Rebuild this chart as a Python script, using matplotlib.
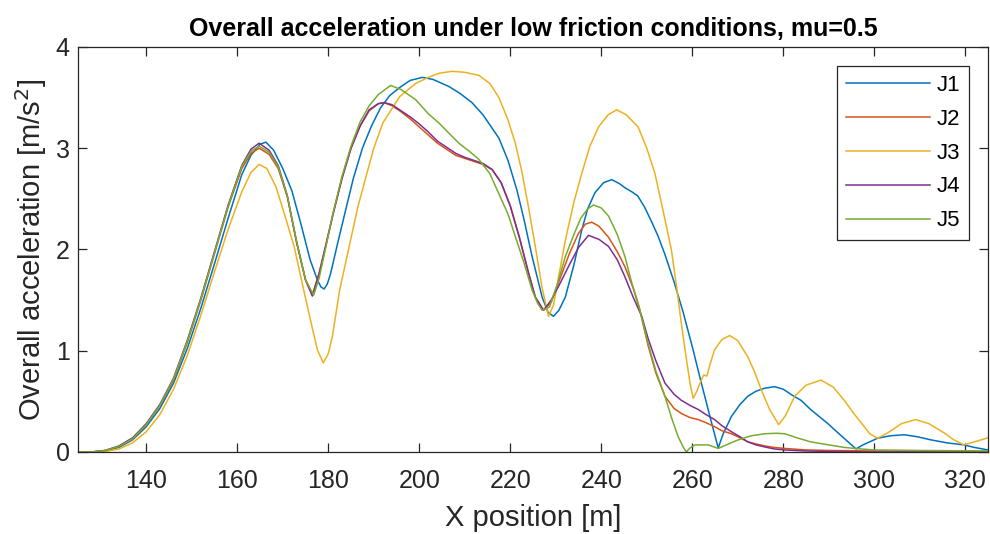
import matplotlib
matplotlib.use("Agg")
import matplotlib.pyplot as plt

plt.rcParams['font.family'] = ['Liberation Sans', 'DejaVu Sans']

# X position [m] and overall acceleration [m/s^2] for each run
x_j1 = [125, 128, 131, 134, 137, 140, 143, 146, 149, 152,
        155, 158, 161, 163, 165, 166.3, 168, 170, 172, 174,
        176, 177.6, 178.4, 179.1, 179.8, 180.5, 182, 183.5, 185.5, 187.5,
        189.5, 191.5, 193.5, 195.7, 198, 200.7, 203, 206.5, 209, 211.6,
        214, 217.5, 219.5, 221.5, 223, 224.8, 227, 228.3, 229.5, 230.7,
        232.1, 234, 235.7, 237, 238.6, 240.5, 242.3, 244, 245.2, 246.7,
        248, 249.5, 251, 252.5, 254, 256, 258, 260, 262, 264,
        265.7, 266.8, 268.6, 270.5, 272.2, 274, 275.9, 278.1, 280, 282,
        283.9, 286, 289.8, 292, 294, 296, 297.5, 300.7, 303.5, 306.6,
        309.5, 312.4, 316, 319.7, 322, 325]
a_j1 = [0, 0, 0.01, 0.045, 0.12, 0.25, 0.43, 0.68, 1.02, 1.42,
        1.86, 2.31, 2.74, 2.93, 3.04, 3.06, 2.98, 2.80, 2.58, 2.25,
        1.90, 1.70, 1.63, 1.61, 1.66, 1.76, 2.05, 2.33, 2.70, 3.00,
        3.22, 3.40, 3.52, 3.60, 3.67, 3.70, 3.68, 3.61, 3.54, 3.45,
        3.33, 3.10, 2.88, 2.58, 2.30, 1.93, 1.53, 1.38, 1.34, 1.40,
        1.53, 1.85, 2.19, 2.40, 2.56, 2.66, 2.69, 2.65, 2.61, 2.57,
        2.53, 2.42, 2.28, 2.13, 1.95, 1.68, 1.38, 1.04, 0.68, 0.33,
        0.04, 0.18, 0.35, 0.47, 0.55, 0.60, 0.63, 0.645, 0.62, 0.56,
        0.51, 0.42, 0.28, 0.19, 0.11, 0.03, 0.07, 0.135, 0.16, 0.17,
        0.15, 0.12, 0.09, 0.07, 0.045, 0.02]

x_j2 = [125, 128, 131, 134, 137, 140, 143, 146, 149, 152,
        155, 158, 161, 163, 164.8, 167, 169, 171, 173, 175,
        176.5, 178, 179.5, 181, 183, 185, 187, 189, 191, 192.3,
        194, 196, 198, 200, 202, 204, 206, 208, 210, 212,
        214, 216, 218, 220, 222, 224, 225.5, 227.3, 229, 231,
        233, 235, 236.5, 237.9, 239.5, 241.6, 243.5, 245.2, 247, 248.5,
        250.3, 252, 254, 256, 257.6, 259.5, 261.3, 263, 264.9, 266.5,
        268.6, 270.5, 272.2, 274, 275.9, 278, 280.3, 285, 290, 300,
        310, 325]
a_j2 = [0, 0, 0.015, 0.055, 0.13, 0.27, 0.46, 0.71, 1.08, 1.50,
        1.96, 2.42, 2.80, 2.95, 3.00, 2.94, 2.80, 2.52, 2.08, 1.70,
        1.55, 1.77, 2.05, 2.34, 2.70, 3.00, 3.22, 3.37, 3.44, 3.45,
        3.42, 3.36, 3.29, 3.21, 3.13, 3.05, 2.99, 2.93, 2.90, 2.87,
        2.84, 2.79, 2.66, 2.43, 2.12, 1.77, 1.53, 1.40, 1.48, 1.72,
        1.96, 2.16, 2.25, 2.27, 2.23, 2.12, 1.98, 1.83, 1.62, 1.40,
        1.05, 0.78, 0.55, 0.43, 0.38, 0.34, 0.32, 0.29, 0.25, 0.21,
        0.18, 0.14, 0.10, 0.08, 0.06, 0.045, 0.035, 0.02, 0.015, 0.01,
        0.008, 0.005]

x_j3 = [125, 128, 131, 134, 137, 140, 143, 146, 149, 152,
        155, 158, 161, 163, 164.8, 166.5, 168.5, 170.5, 172.5, 174.5,
        176, 177.6, 178.9, 180, 180.9, 182.5, 184.6, 186.5, 188.3, 190,
        192, 195.7, 199.2, 202, 204.3, 207.2, 210, 213.1, 215.5, 217.5,
        219.5, 221.1, 222.5, 224, 225.5, 227, 228.4, 229.5, 230.5, 232.1,
        234, 235.7, 237.5, 239.4, 241.5, 243.4, 245.5, 248.1, 250, 251.8,
        253.5, 255.4, 256.5, 257.6, 258.5, 259.5, 260.2, 261, 261.7, 262.5,
        263.2, 264, 264.9, 266.5, 268.2, 270, 272.2, 273.7, 275.2, 277,
        279, 280.5, 282.5, 285, 288.3, 291, 293.4, 295.5, 297.1, 299,
        300.7, 303, 306, 309.1, 312, 315.3, 317.5, 319.7, 322, 325]
a_j3 = [0, 0, 0.005, 0.03, 0.09, 0.20, 0.37, 0.62, 0.95, 1.35,
        1.78, 2.20, 2.57, 2.76, 2.84, 2.80, 2.62, 2.33, 2.03, 1.62,
        1.32, 1.01, 0.88, 0.97, 1.14, 1.60, 2.03, 2.42, 2.72, 3.00,
        3.25, 3.51, 3.64, 3.70, 3.74, 3.76, 3.75, 3.72, 3.64, 3.50,
        3.28, 3.05, 2.78, 2.42, 2.03, 1.62, 1.34, 1.45, 1.70, 2.09,
        2.47, 2.75, 3.02, 3.21, 3.33, 3.38, 3.33, 3.21, 3.00, 2.75,
        2.40, 2.00, 1.65, 1.27, 0.98, 0.68, 0.53, 0.60, 0.68, 0.76,
        0.75, 0.88, 1.01, 1.11, 1.15, 1.10, 0.94, 0.79, 0.61, 0.42,
        0.27, 0.36, 0.55, 0.66, 0.71, 0.64, 0.51, 0.38, 0.29, 0.18,
        0.135, 0.19, 0.28, 0.32, 0.28, 0.19, 0.12, 0.07, 0.10, 0.14]

x_j4 = [125, 128, 131, 134, 137, 140, 143, 146, 149, 152,
        155, 158, 161, 163, 164.8, 167, 169, 171, 173, 175,
        176.5, 178, 179.5, 181, 183, 185, 187, 189, 191, 192.3,
        194, 196, 198, 200, 202, 204, 206, 208, 210, 212,
        214, 216, 218, 220, 222, 224, 225.5, 227.3, 229, 231,
        233, 235, 237.2, 239.5, 241.6, 243.5, 245.2, 247, 248.9, 250.3,
        252, 254, 256, 257.6, 259.5, 261.3, 263, 264.9, 266.5, 268.6,
        270.5, 272.2, 274, 275.9, 278, 280.3, 285, 290, 300, 310,
        325]
a_j4 = [0, 0, 0.015, 0.06, 0.14, 0.28, 0.47, 0.73, 1.10, 1.52,
        1.98, 2.44, 2.83, 2.99, 3.05, 2.98, 2.83, 2.53, 2.08, 1.70,
        1.54, 1.76, 2.05, 2.34, 2.70, 3.00, 3.22, 3.38, 3.44, 3.45,
        3.43, 3.37, 3.31, 3.24, 3.16, 3.07, 3.01, 2.95, 2.91, 2.88,
        2.85, 2.79, 2.66, 2.43, 2.12, 1.77, 1.53, 1.40, 1.50, 1.67,
        1.85, 2.02, 2.14, 2.10, 2.03, 1.90, 1.73, 1.53, 1.34, 1.12,
        0.90, 0.68, 0.57, 0.51, 0.46, 0.42, 0.37, 0.32, 0.26, 0.20,
        0.15, 0.10, 0.07, 0.05, 0.03, 0.02, 0.01, 0.005, 0.0, 0.0,
        0.0]

x_j5 = [125, 128, 131, 134, 137, 140, 143, 146, 149, 152,
        155, 158, 161, 163, 164.8, 167, 169, 171, 173, 175,
        176.8, 178, 179.5, 181, 183, 185, 187, 189, 191, 193.7,
        196, 199.2, 202, 204.3, 206.5, 208.7, 211, 213.1, 215.5, 217.5,
        219.5, 221.1, 223, 224.8, 226, 227, 228.6, 230.5, 232.1, 234,
        235.5, 237, 238.3, 240, 241.6, 243.5, 245.2, 246.7, 248.1, 250.3,
        252, 254, 255.5, 256.9, 258, 258.7, 259.5, 260.6, 262, 263.5,
        265.7, 268, 270.1, 273, 275.9, 278.5, 280.3, 283, 286, 290,
        293.4, 297, 300, 310, 325]
a_j5 = [0, 0, 0.015, 0.055, 0.13, 0.27, 0.46, 0.72, 1.09, 1.51,
        1.97, 2.43, 2.82, 2.97, 3.02, 2.96, 2.82, 2.53, 2.09, 1.70,
        1.55, 1.72, 2.03, 2.35, 2.72, 3.02, 3.26, 3.42, 3.53, 3.62,
        3.58, 3.48, 3.34, 3.25, 3.15, 3.05, 2.97, 2.89, 2.75, 2.55,
        2.35, 2.13, 1.87, 1.60, 1.47, 1.40, 1.43, 1.68, 1.93, 2.15,
        2.31, 2.40, 2.44, 2.41, 2.33, 2.15, 1.93, 1.67, 1.47, 1.07,
        0.80, 0.55, 0.33, 0.15, 0.05, 0.0, 0.04, 0.07, 0.07, 0.07,
        0.035, 0.08, 0.12, 0.16, 0.18, 0.185, 0.18, 0.14, 0.10, 0.07,
        0.045, 0.03, 0.02, 0.015, 0.01]

series_labels = ['J1', 'J2', 'J3', 'J4', 'J5']
x_ticks = [140, 160, 180, 200, 220, 240, 260, 280, 300, 320]
y_ticks = [0, 1, 2, 3, 4]

colors = ['#0072BD', '#D95319', '#EDB120', '#7E2F8E', '#77AC30']
axis_gray = '#262626'
tick_family = ['Liberation Sans Narrow', 'Liberation Sans', 'DejaVu Sans']

fig = plt.figure(figsize=(9.9, 5.34), dpi=100)
ax = fig.add_axes([0.0788, 0.1536, 0.9192, 0.7584])

runs = [(x_j1, a_j1), (x_j2, a_j2), (x_j3, a_j3), (x_j4, a_j4), (x_j5, a_j5)]
for (xs, ys), lab, col in zip(runs, series_labels, colors):
    ax.plot(xs, ys, color=col, lw=1.1, label=lab)

ax.set_xlim(125, 325)
ax.set_ylim(0, 4)
ax.set_xticks(x_ticks)
ax.set_yticks(y_ticks)

for sp in ax.spines.values():
    sp.set_color(axis_gray)
    sp.set_linewidth(0.9)
ax.tick_params(direction='in', length=6.5, width=0.9, colors=axis_gray,
               top=True, right=True)
ax.tick_params(axis='x', pad=12)
ax.tick_params(axis='y', pad=6)
for t in ax.get_xticklabels() + ax.get_yticklabels():
    t.set_fontfamily(tick_family)
    t.set_fontsize(18)

ax.set_xlabel('X position [m]', fontsize=21, color=axis_gray, labelpad=8)
ax.set_ylabel('Overall acceleration [m/s$^2$]', fontsize=21, color=axis_gray,
              labelpad=5)
ax.set_title('Overall acceleration under low friction conditions, mu=0.5',
             fontsize=18, fontweight='bold', color='#000000', pad=8)

leg = ax.legend(loc='upper right', fontsize=16, frameon=True, fancybox=False,
                framealpha=1, edgecolor=axis_gray, handlelength=3.8,
                handletextpad=0.3, labelspacing=0.58, borderpad=0.4,
                borderaxespad=0.85)
leg.get_frame().set_linewidth(0.9)

fig.savefig('out.png', dpi=100)
